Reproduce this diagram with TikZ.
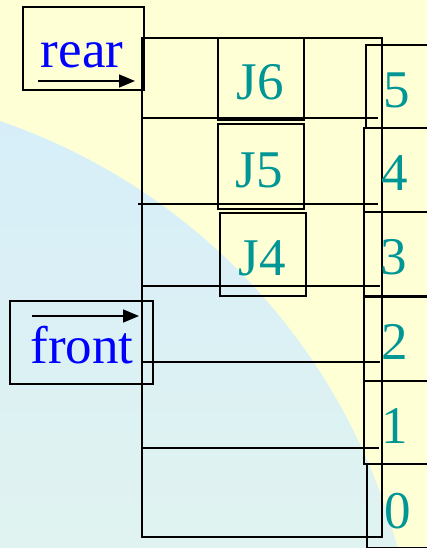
\documentclass[tikz,border=0pt]{standalone}
\usepackage{fontspec}
\setmainfont{Liberation Serif}
\usetikzlibrary{arrows.meta}
\definecolor{bgyellow}{RGB}{255,255,214}
\definecolor{bluetop}{RGB}{214,238,250}
\definecolor{bluebot}{RGB}{224,243,240}
\definecolor{tealtxt}{RGB}{0,150,150}
\tikzset{
  ln/.style={draw=black,line width=1.6pt},
  box/.style={ln,rectangle,inner sep=0pt,anchor=north west},
  bigtxt/.style={font=\fontsize{53}{60}\selectfont,anchor=base,inner sep=0pt},
  lbl/.style={bigtxt,text=tealtxt},
  ptr/.style={bigtxt,text=blue},
  arr/.style={line width=1.6pt,-{Triangle[length=16pt,width=13pt]}}
}
\begin{document}
\begin{tikzpicture}[x=1pt,y=-1pt]
\useasboundingbox (0,0) rectangle (427,548);
\clip (0,0) rectangle (427,548);
% background
\fill[bgyellow] (0,0) rectangle (427,548);
\begin{scope}
  \clip (-200,706) circle[radius=618pt];
  \shade[top color=bluetop,bottom color=bluebot] (0,88) rectangle (427,548);
\end{scope}
% main queue array
\node[box,minimum width=240pt,minimum height=499pt] (q) at (141,37) {};
\draw[ln] (141,118) -- (378,118);
\draw[ln] (138,204) -- (378,204);
\draw[ln] (141,286) -- (380,286);
\draw[ln] (141,362) -- (380,362);
\draw[ln] (141,448) -- (379,448);
% index boxes
\node[box,minimum width=80pt,minimum height=83pt] (i5) at (365,44) {};
\node[box,minimum width=80pt,minimum height=84pt] (i4) at (363,127) {};
\node[box,minimum width=80pt,minimum height=85pt] (i3) at (363,211) {};
\node[box,minimum width=80pt,minimum height=85pt] (i2) at (363,295) {};
\node[box,minimum width=80pt,minimum height=83pt] (i1) at (363,380) {};
\node[box,minimum width=80pt,minimum height=84pt] (i0) at (366,463) {};
\node[lbl] (t5) at (397,108) {5};
\node[lbl] (t4) at (395,190) {4};
\node[lbl] (t3) at (394,274) {3};
\node[lbl] (t2) at (395,359) {2};
\node[lbl] (t1) at (395,443) {1};
\node[lbl] (t0) at (398,528) {0};
% job boxes
\node[box,minimum width=86pt,minimum height=82pt] (j6) at (217,37) {};
\node[box,minimum width=86pt,minimum height=85pt] (j5) at (217,123) {};
\node[box,minimum width=86pt,minimum height=83pt] (j4) at (219,212) {};
\node[lbl] (tj6) at (260,100) {J6};
\node[lbl] (tj5) at (259,187) {J5};
\node[lbl] (tj4) at (262,275) {J4};
% rear pointer
\node[box,minimum width=121pt,minimum height=83pt] (rear) at (22,6) {};
\node[ptr] (reartxt) at (82,68) {rear};
\coordinate (ra) at (38,81);
\coordinate (rb) at (135,81);
\draw[arr] (ra) -- (rb);
% front pointer
\node[box,minimum width=143pt,minimum height=83pt] (front) at (9,300) {};
\node[ptr] (fronttxt) at (82,363) {front};
\coordinate (fa) at (32,316);
\coordinate (fb) at (139,316);
\draw[arr] (fa) -- (fb);
\end{tikzpicture}
\end{document}
